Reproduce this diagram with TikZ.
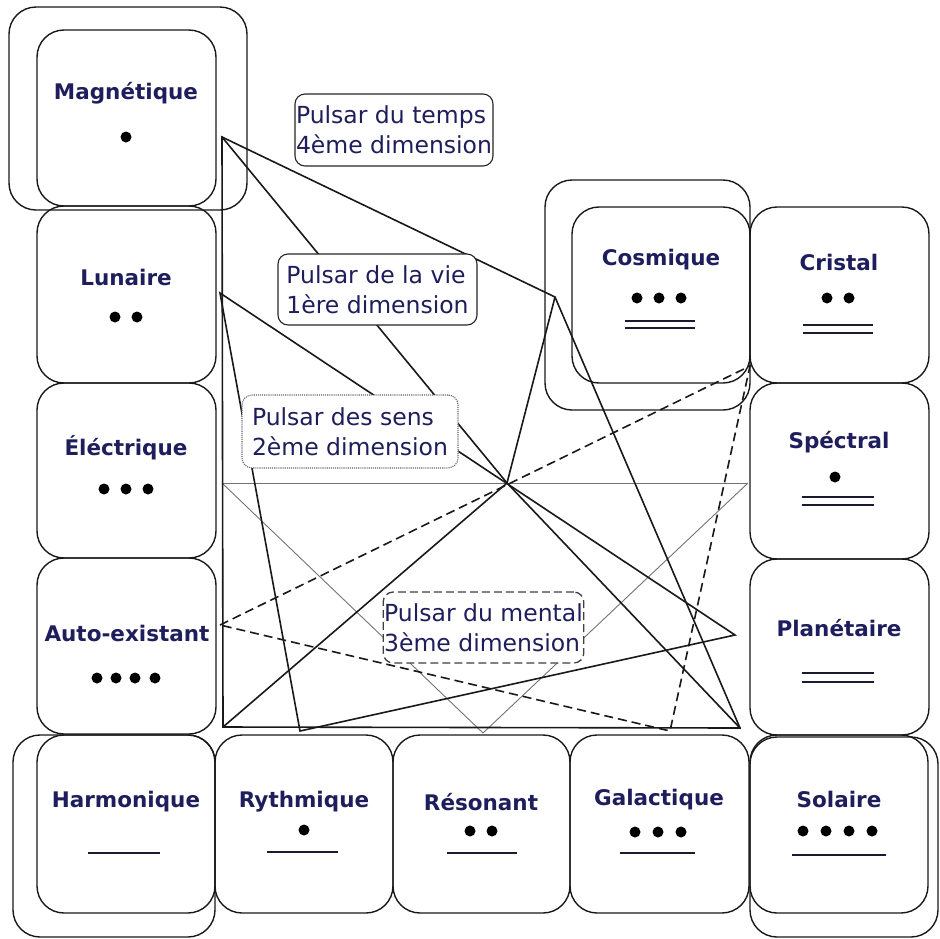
\documentclass[tikz,border=0pt]{standalone}
\usepackage{fontspec}
\setmainfont{DejaVu Sans}
\definecolor{navy}{HTML}{1E1E5C}
\definecolor{barcol}{HTML}{1A1A30}
\tikzset{
  cell/.style={draw=black!90, line width=1.4pt, rounded corners=27pt, inner sep=0pt, outer sep=0pt},
  lbl/.style={font=\bfseries\fontsize{21.5}{23}\selectfont, text=navy, inner sep=0pt},
  pulsarbox/.style={fill=white, rounded corners=10pt, font=\fontsize{23.5}{30}\selectfont, text=navy, align=left, inner sep=1pt},
  timeline/.style={line width=1.6pt, black!90},
  lifeline/.style={line width=1.6pt, black!90},
  sensline/.style={line width=0.9pt, black!55},
  mentline/.style={line width=1.6pt, black!90, dash pattern=on 9pt off 5pt},
  bar/.style={line width=2.2pt, barcol},
  dotmark/.style={fill=black},
}
\begin{document}
\begin{tikzpicture}[x=1pt,y=-1pt]
\useasboundingbox (0,0) rectangle (940,938);
% outer boxes (4th dimension tones)
\node[cell, minimum width=238pt, minimum height=203pt] (magnO) at (128,108.5) {};
\node[cell, minimum width=202pt, minimum height=202pt] (harmO) at (114,836) {};
\node[cell, minimum width=188pt, minimum height=200pt] (solaO) at (844,837) {};
\node[cell, minimum width=205pt, minimum height=230pt] (cosmO) at (647.5,295) {};
% cells
\node[cell, minimum width=179pt, minimum height=176pt] (magn) at (126.5,118) {};
\node[cell, minimum width=179pt, minimum height=177pt] (luna) at (126.5,294.5) {};
\node[cell, minimum width=179pt, minimum height=175pt] (elec) at (126.5,470.5) {};
\node[cell, minimum width=179pt, minimum height=176pt] (auto) at (126.5,646) {};
\node[cell, minimum width=178pt, minimum height=178pt] (harm) at (126,824) {};
\node[cell, minimum width=178pt, minimum height=178pt] (ryth) at (304,824) {};
\node[cell, minimum width=177pt, minimum height=178pt] (reso) at (481.5,824) {};
\node[cell, minimum width=179pt, minimum height=178pt] (gala) at (659.5,824) {};
\node[cell, minimum width=178pt, minimum height=178pt] (sola) at (839,824) {};
\node[cell, minimum width=179pt, minimum height=176pt] (plan) at (839.5,647) {};
\node[cell, minimum width=179pt, minimum height=176pt] (spec) at (839.5,471) {};
\node[cell, minimum width=179pt, minimum height=176pt] (cris) at (839.5,295) {};
\node[cell, minimum width=178pt, minimum height=176pt] (cosm) at (661,295) {};
% pulsar points
\coordinate (pM) at (222,137);
\coordinate (pL) at (220,293);
\coordinate (pE) at (222,483);
\coordinate (pA) at (220,625);
\coordinate (pH) at (223,727);
\coordinate (pR) at (300,731);
\coordinate (pRe) at (483,733);
\coordinate (pG) at (670,731);
\coordinate (pS) at (740,728);
\coordinate (pP) at (735,635);
\coordinate (pSp) at (748,483);
\coordinate (pCr) at (750,366);
\coordinate (pC) at (555,297);
\coordinate (pO) at (507,483);
% 2nd dimension (sens)
\draw[sensline] (pE) -- (pSp);
\draw[sensline] (pE) -- (pRe) -- (pSp);
% 4th dimension (temps)
\draw[timeline] (pM) -- (pC) -- (pS) -- (pH) -- cycle;
\draw[timeline] (pM) -- (pO) -- (pS);
\draw[timeline] (pC) -- (pO) -- (pH);
% 1st dimension (vie)
\draw[lifeline] (pL) -- (pR) -- (pP) -- cycle;
% 3rd dimension (mental)
\draw[mentline] (pA) -- (pCr) -- (pG) -- cycle;
% pulsar labels
\node[pulsarbox, draw=black!85, line width=1.1pt, minimum width=198pt, minimum height=72pt] (ptemps) at (394,130) {Pulsar du temps\\4ème dimension};
\node[pulsarbox, draw=black!85, line width=1.1pt, minimum width=199pt, minimum height=71pt] (pvie) at (377.5,289.5) {Pulsar de la vie\\1ère dimension};
\node[pulsarbox, draw=black!60, line width=1.1pt, densely dotted, minimum width=216pt, minimum height=73pt] (psens) at (350,431.5) {Pulsar des sens\\2ème dimension};
\node[pulsarbox, draw=black!75, line width=1.3pt, dash pattern=on 8pt off 4pt, minimum width=199pt, minimum height=71pt] (pmental) at (483.5,627.5) {Pulsar du mental\\3ème dimension};
% tone labels
\node[lbl] (tMagn) at (126,93) {Magnétique};
\node[lbl] (tLuna) at (126,277) {Lunaire};
\node[lbl] (tElec) at (126,448) {Éléctrique};
\node[lbl] (tAuto) at (127,633) {Auto-existant};
\node[lbl] (tHarm) at (126,802) {Harmonique};
\node[lbl] (tRyth) at (304,802) {Rythmique};
\node[lbl] (tReso) at (481,802) {Résonant};
\node[lbl] (tGala) at (659,800) {Galactique};
\node[lbl] (tSola) at (839,799) {Solaire};
\node[lbl] (tCosm) at (661,260) {Cosmique};
\node[lbl] (tCris) at (839,262) {Cristal};
\node[lbl] (tSpec) at (839,442) {Spéctral};
\node[lbl] (tPlan) at (839,628) {Planétaire};
% dots
\fill[dotmark] (126,137) circle (5.5);
\foreach \x in {115,137} \fill[dotmark] (\x,317) circle (5.5);
\foreach \x in {104,126,148} \fill[dotmark] (\x,489) circle (5.5);
\foreach \x in {97,116,135,155} \fill[dotmark] (\x,678) circle (5.5);
\fill[dotmark] (304,830) circle (5.5);
\foreach \x in {470,492} \fill[dotmark] (\x,831) circle (5.5);
\foreach \x in {635,658,681} \fill[dotmark] (\x,832) circle (5.5);
\foreach \x in {803,826,849,872} \fill[dotmark] (\x,831) circle (5.5);
\foreach \x in {637,659,681} \fill[dotmark] (\x,298) circle (5.5);
\foreach \x in {827,849} \fill[dotmark] (\x,298) circle (5.5);
\fill[dotmark] (835,477) circle (5.5);
% bars
\draw[bar, line width=2.8pt] (88,853) -- (160,853);
\draw[bar] (267,852) -- (338,852);
\draw[bar] (447,853) -- (517,853);
\draw[bar] (620,853) -- (695,853);
\draw[bar] (792,855) -- (886,855);
\draw[bar] (625,321) -- (695,321);
\draw[bar] (625,328) -- (695,328);
\draw[bar] (803,325) -- (873,325);
\draw[bar] (803,333) -- (873,333);
\draw[bar] (802,497) -- (874,497);
\draw[bar] (802,505) -- (874,505);
\draw[bar] (802,673) -- (874,673);
\draw[bar] (802,682) -- (874,682);
\end{tikzpicture}
\end{document}
